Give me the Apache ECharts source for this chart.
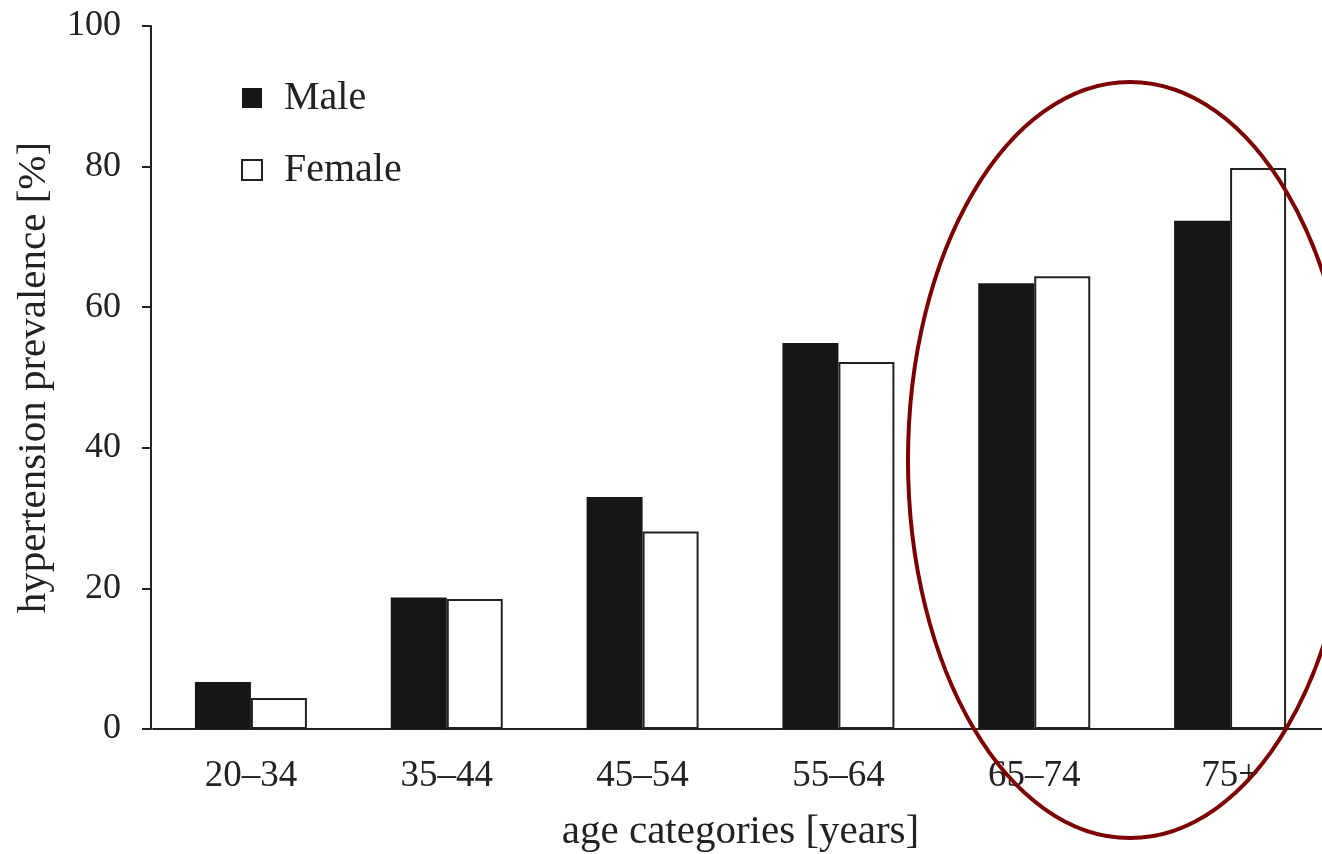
<!DOCTYPE html>
<html>
<head>
<meta charset="utf-8">
<script src="https://cdn.jsdelivr.net/npm/echarts@6/dist/echarts.min.js"></script>
<style>html,body{margin:0;padding:0;background:#fff;}#c{width:1322px;height:854px;}</style>
</head>
<body>
<div id="c"></div>
<script>
const categories = ['20\u201334', '35\u201344', '45\u201354', '55\u201364', '65\u201374', '75+'];
const maleValues = [6.7, 18.7, 33.0, 54.9, 63.4, 72.3];
const femaleValues = [4.4, 18.5, 28.1, 52.2, 64.4, 79.8];
const yTicks = [0, 20, 40, 60, 80, 100];

const font = '"Liberation Serif", "Times New Roman", serif';
const chart = echarts.init(document.getElementById('c'), null, {renderer: 'canvas'});
chart.setOption({
  animation: false,
  backgroundColor: '#fff',
  grid: {left: 153, right: -6, top: 26, bottom: 125, containLabel: false, outerBoundsMode: 'none'},
  legend: {
    orient: 'vertical', left: 236, top: 71, itemWidth: 20, itemHeight: 20, itemGap: 28,
    icon: 'rect',
    textStyle: {fontFamily: font, fontSize: 40, lineHeight: 44, color: '#222', padding: [0, 0, 0, 17]},
    data: ['Male', 'Female']
  },
  xAxis: {
    type: 'category', data: categories,
    axisLine: {lineStyle: {color: '#222', width: 2}},
    axisTick: {show: false},
    axisLabel: {fontFamily: font, fontSize: 37, color: '#222', margin: 29},
    name: 'age categories [years]', nameLocation: 'middle', nameGap: 83,
    nameTextStyle: {fontFamily: font, fontSize: 41, color: '#222'}
  },
  yAxis: {
    type: 'value', min: 0, max: 100, interval: 20, offset: 2,
    axisLine: {show: true, lineStyle: {color: '#222', width: 2}},
    axisTick: {show: true, length: 9, lineStyle: {color: '#222', width: 2}},
    splitLine: {show: false},
    axisLabel: {fontFamily: font, fontSize: 36, color: '#222', margin: 30,
      formatter: v => yTicks.includes(v) ? String(v) : ''},
    name: 'hypertension prevalence [%]', nameLocation: 'middle', nameGap: 96,
    nameTextStyle: {fontFamily: font, fontSize: 41, color: '#222'}
  },
  series: [
    {name: 'Male', type: 'bar', data: maleValues, barWidth: 56, barGap: '0%',
     itemStyle: {color: '#161616', borderColor: '#161616', borderWidth: 0}},
    {name: 'Female', type: 'bar', data: femaleValues, barWidth: 56,
     itemStyle: {color: '#fff', borderColor: '#222', borderWidth: 2}}
  ],
  graphic: [{
    type: 'ellipse', z: 100,
    shape: {cx: 1130, cy: 460, rx: 222, ry: 378},
    style: {fill: 'none', stroke: '#7d0000', lineWidth: 4}
  }]
});
</script>
</body>
</html>
